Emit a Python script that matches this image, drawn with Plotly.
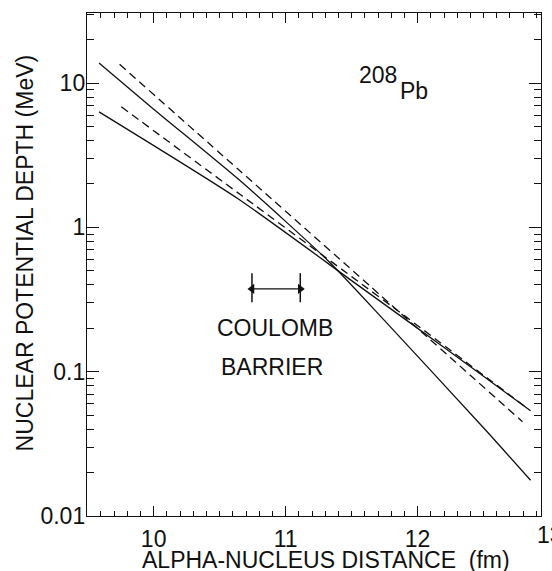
import math
import plotly.graph_objects as go

# ---- data ----
solid_steep_x = [9.586, 10.0, 10.652, 11.333, 11.75, 12.52, 12.856]
solid_steep_y = [13.8, 6.6, 2.12, 0.574, 0.226, 0.039, 0.0177]

solid_shallow_x = [9.586, 10.639, 11.5, 11.92, 12.445, 12.856]
solid_shallow_y = [6.32, 1.58, 0.428, 0.226, 0.101, 0.0536]

dashed_upper_x = [9.742, 10.664, 11.636, 12.795]
dashed_upper_y = [13.5, 2.42, 0.395, 0.045]

dashed_lower_x = [9.755, 10.664, 11.5, 11.92, 12.84]
dashed_lower_y = [6.85, 1.67, 0.456, 0.237, 0.055]

barrier_x = [10.745, 11.111]
barrier_bar_y = [0.303, 0.482]
barrier_arrow_y = 0.375

x_tick_vals = [9.5, 10.0, 10.5, 11.0, 11.5, 12.0, 12.5]
x_tick_text = ["", "10", "", "11", "", "12", ""]
y_tick_vals = [0.01, 0.1, 1, 10]
y_tick_text = ["0.01", "0.1", "1", "10"]

INK = "#111111"
FONT = "Liberation Sans"
FS = 23

fig = go.Figure()

def add_line(x, y, dash):
    fig.add_trace(go.Scatter(x=x, y=y, mode="lines",
                             line=dict(color=INK, width=1.3, dash=dash,
                                       shape="spline", smoothing=0.6),
                             showlegend=False, hoverinfo="skip"))

add_line(solid_steep_x, solid_steep_y, "solid")
add_line(solid_shallow_x, solid_shallow_y, "solid")
add_line(dashed_upper_x, dashed_upper_y, "8px,5px")
add_line(dashed_lower_x, dashed_lower_y, "8px,5px")

# Coulomb barrier marker: two vertical bars and a double arrow
for bx in barrier_x:
    fig.add_trace(go.Scatter(x=[bx, bx], y=barrier_bar_y, mode="lines",
                             line=dict(color=INK, width=1.5),
                             showlegend=False, hoverinfo="skip"))
fig.add_trace(go.Scatter(x=barrier_x, y=[barrier_arrow_y] * 2, mode="lines+markers",
                         line=dict(color=INK, width=1.3),
                         marker=dict(symbol=["triangle-left", "triangle-right"],
                                     size=9, color=INK,
                                     line=dict(width=0)),
                         showlegend=False, hoverinfo="skip"))

minor_y = [m * 10.0 ** e for e in range(-2, 2) for m in range(2, 10)]
minor_x = [round(9.5 + 0.1 * i, 2) for i in range(35)]

font = dict(family=FONT, size=FS, color=INK)

fig.update_layout(
    width=552, height=571,
    margin=dict(l=87, r=11, t=13, b=55),
    paper_bgcolor="white", plot_bgcolor="white",
    font=font,
    xaxis=dict(range=[9.495, 12.935], showgrid=False, zeroline=False,
               showline=True, linecolor=INK, linewidth=1.4, mirror="ticks",
               ticks="inside", ticklen=10, tickwidth=1.1, tickcolor=INK,
               tickmode="array", tickvals=x_tick_vals, ticktext=x_tick_text,
               tickfont=font, ticklabelstandoff=2,
               minor=dict(tickvals=minor_x, ticks="inside", ticklen=5,
                          tickwidth=1, tickcolor=INK, showgrid=False)),
    yaxis=dict(type="log", range=[-2, 1.486], showgrid=False, zeroline=False,
               showline=True, linecolor=INK, linewidth=1.4, mirror="ticks",
               ticks="inside", ticklen=12, tickwidth=1.1, tickcolor=INK,
               tickmode="array", tickvals=y_tick_vals, ticktext=y_tick_text,
               tickfont=font, ticklabelstandoff=-4,
               minor=dict(tickvals=minor_y, ticks="inside", ticklen=7,
                          tickwidth=1, tickcolor=INK, showgrid=False)),
)

annots = [
    dict(text="ALPHA-NUCLEUS DISTANCE\u00a0 (fm)", xref="paper", yref="paper",
         x=0.5275, y=-0.0876, xanchor="center", yanchor="middle"),
    dict(text="NUCLEAR POTENTIAL DEPTH (MeV)", xref="paper", yref="paper",
         x=-0.1366, y=0.524, xanchor="center", yanchor="middle", textangle=-90),
    dict(text="13", xref="paper", yref="paper", x=1.0198, y=-0.0386,
         xanchor="center", yanchor="middle"),
    dict(text="COULOMB", xref="x", yref="y", x=10.923, y=math.log10(0.202),
         xanchor="center", yanchor="middle"),
    dict(text="BARRIER", xref="x", yref="y", x=10.894, y=math.log10(0.108),
         xanchor="center", yanchor="middle"),
    dict(text="208", xref="x", yref="y", x=11.70, y=1.056,
         xanchor="center", yanchor="middle"),
    dict(text="Pb", xref="x", yref="y", x=11.975, y=0.948,
         xanchor="center", yanchor="middle"),
]
for a in annots:
    a.update(showarrow=False, font=font)
    fig.add_annotation(**a)

fig.write_html("out.html")
